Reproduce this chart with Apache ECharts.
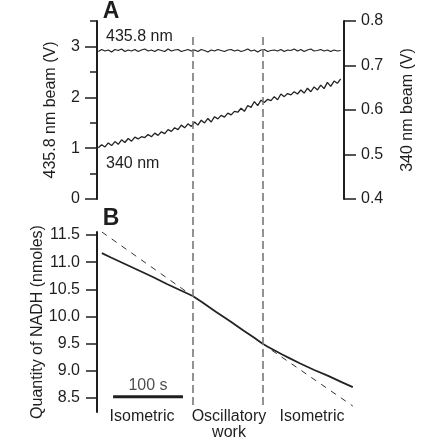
<!DOCTYPE html>
<html>
<head>
<meta charset="utf-8">
<script src="https://cdn.jsdelivr.net/npm/echarts@6/dist/echarts.min.js"></script>
<style>
  html, body { margin: 0; padding: 0; background: #fff; }
  #main { width: 424px; height: 446px; }
</style>
</head>
<body>
<div id="main"></div>
<script>
// time (s) of the sampled points in panel A
var times = [2,7,12,17,22,27,32,37,42,47,
  52,57,62,67,72,77,82,87,92,97,
  102,107,112,117,122,127,132,137,142,147,
  152,157,162,167,172,177,182,187,192,197,
  202,207,212,217,222,227,232,237,242,247,
  252,257,262,267,272,277,282,287,292,297,
  302,307,312,317,322,327,332,337,342,347,
  352,357,362,367];
// 435.8 nm beam (V), left axis
var beam435 = [2.90,2.94,2.91,2.93,2.89,2.94,2.92,2.95,2.90,2.93,
  2.91,2.94,2.90,2.93,2.95,2.91,2.93,2.90,2.94,2.92,
  2.90,2.95,2.91,2.93,2.94,2.90,2.92,2.94,2.91,2.93,
  2.90,2.94,2.92,2.89,2.93,2.91,2.94,2.92,2.90,2.93,
  2.94,2.91,2.93,2.90,2.92,2.95,2.91,2.93,2.89,2.93,
  2.94,2.90,2.92,2.93,2.91,2.94,2.90,2.93,2.92,2.95,
  2.91,2.94,2.90,2.93,2.95,2.91,2.92,2.94,2.91,2.93,
  2.90,2.93,2.91,2.92];
// 340 nm beam (V), right axis
var beam340 = [0.515,0.522,0.517,0.526,0.520,0.529,0.523,0.533,0.527,0.536,
  0.530,0.539,0.535,0.540,0.538,0.545,0.540,0.548,0.543,0.551,
  0.547,0.556,0.552,0.560,0.556,0.566,0.560,0.569,0.563,0.573,
  0.566,0.577,0.571,0.581,0.573,0.585,0.580,0.588,0.584,0.593,
  0.589,0.597,0.595,0.604,0.597,0.610,0.606,0.619,0.610,0.622,
  0.617,0.624,0.621,0.630,0.623,0.636,0.630,0.637,0.634,0.641,
  0.636,0.645,0.638,0.649,0.641,0.652,0.645,0.656,0.648,0.662,
  0.653,0.665,0.660,0.670];

// panel B: quantity of NADH (nmoles)
var nadhTimes = [7,20,40,60,80,100,120,137,150,170,190,210,225,237,245,255,265,276,290,310,330,350,366];
var nadh = [11.17,11.09,10.97,10.85,10.73,10.60,10.48,10.38,10.27,10.09,9.92,9.74,9.61,9.50,9.44,9.37,9.30,9.23,9.14,9.02,8.91,8.79,8.70];
// extrapolated oscillatory slope (dashed)
var fitLeft = [[7, 11.56], [130, 10.44]];
var fitRight = [[250, 9.38], [366, 8.35]];

// phase boundaries (s)
var phaseEdges = [137, 237];
var scaleBar = [[23, 8.52], [123, 8.52]];
var scaleLabel = '100 s';

var TMAX = 372;
var ink = '#1e1e1e';
var font = '"Liberation Sans", Arial, Helvetica, sans-serif';
var fs = 16;

var chart = echarts.init(document.getElementById('main'), null, { renderer: 'canvas' });

function hiddenX(i) {
  return { type: 'value', gridIndex: i, min: 0, max: TMAX, show: false };
}

var option = {
  backgroundColor: '#fff',
  animation: false,
  textStyle: { fontFamily: font },
  grid: [
    { left: 97, top: 21, width: 260, height: 178 },          // A full range
    { left: 97, top: 46.4, width: 260, height: 152.6 },      // A major ticks 0..3
    { left: 97, top: 232, width: 260, height: 180 },         // B full range
    { left: 97, top: 235, width: 260, height: 163 },         // B ticks 8.5..11.5
    { left: 97, top: 33, width: 260, height: 372 }           // phase lines
  ],
  xAxis: [hiddenX(0), hiddenX(1), hiddenX(2), hiddenX(3), hiddenX(4)],
  yAxis: [
    {
      type: 'value', gridIndex: 0, position: 'left', min: 0, max: 3.5, interval: 0.5,
      axisLine: { show: true, lineStyle: { color: ink, width: 2 } },
      axisTick: { show: true, length: 7, lineStyle: { color: ink, width: 1.5 } },
      axisLabel: { show: false }, splitLine: { show: false },
      name: '435.8 nm beam (V)', nameLocation: 'middle', nameRotate: 90, nameGap: 38,
      nameTextStyle: { color: ink, fontSize: fs, fontFamily: font }
    },
    {
      type: 'value', gridIndex: 0, position: 'right', min: 0.4, max: 0.8, interval: 0.1,
      axisLine: { show: true, lineStyle: { color: ink, width: 2 } },
      axisTick: { show: true, length: 12, lineStyle: { color: ink, width: 1.5 } },
      axisLabel: { color: ink, fontSize: fs, margin: 17, fontFamily: font,
        formatter: function (v) { return v.toFixed(1); } },
      splitLine: { show: false },
      name: '340 nm beam (V)', nameLocation: 'middle', nameRotate: 90, nameGap: 56,
      nameTextStyle: { color: ink, fontSize: fs, fontFamily: font }
    },
    {
      type: 'value', gridIndex: 1, position: 'left', min: 0, max: 3, interval: 1,
      axisLine: { show: false },
      axisTick: { show: true, length: 12, lineStyle: { color: ink, width: 1.5 } },
      axisLabel: { color: ink, fontSize: fs, margin: 17, fontFamily: font },
      splitLine: { show: false }
    },
    {
      type: 'value', gridIndex: 2, position: 'left', min: 8.24, max: 11.56,
      axisLine: { show: true, lineStyle: { color: ink, width: 2 } },
      axisTick: { show: false }, axisLabel: { show: false }, splitLine: { show: false },
      name: 'Quantity of NADH (nmoles)', nameLocation: 'middle', nameRotate: 90, nameGap: 51,
      nameTextStyle: { color: ink, fontSize: fs, fontFamily: font }
    },
    {
      type: 'value', gridIndex: 3, position: 'left', min: 8.5, max: 11.5, interval: 0.5,
      axisLine: { show: false },
      axisTick: { show: true, length: 11, lineStyle: { color: ink, width: 1.5 } },
      axisLabel: { color: ink, fontSize: fs, margin: 17, fontFamily: font,
        formatter: function (v) { return v.toFixed(1); } },
      splitLine: { show: false }
    },
    { type: 'value', gridIndex: 4, min: 0, max: 1, show: false }
  ],
  series: [
    {
      name: '435.8 nm', type: 'line', xAxisIndex: 0, yAxisIndex: 0, symbol: 'none',
      lineStyle: { color: '#222', width: 1.2 },
      data: times.map(function (t, i) { return [t, beam435[i]]; })
    },
    {
      name: '340 nm', type: 'line', xAxisIndex: 0, yAxisIndex: 1, symbol: 'none',
      lineStyle: { color: '#222', width: 1.3 },
      data: times.map(function (t, i) { return [t, beam340[i]]; })
    },
    {
      name: 'NADH', type: 'line', xAxisIndex: 2, yAxisIndex: 3, symbol: 'none',
      lineStyle: { color: '#222', width: 1.8 },
      data: nadhTimes.map(function (t, i) { return [t, nadh[i]]; })
    },
    {
      name: 'fitLeft', type: 'line', xAxisIndex: 2, yAxisIndex: 3, symbol: 'none',
      lineStyle: { color: '#333', width: 1, type: [6, 6] },
      data: fitLeft
    },
    {
      name: 'fitRight', type: 'line', xAxisIndex: 2, yAxisIndex: 3, symbol: 'none',
      lineStyle: { color: '#333', width: 1, type: [6, 6] },
      data: fitRight
    },
    {
      name: 'scale', type: 'line', xAxisIndex: 2, yAxisIndex: 3, symbol: 'none',
      lineStyle: { color: '#1e1e1e', width: 3 },
      data: scaleBar
    },
    {
      name: 'scaleLabel', type: 'scatter', xAxisIndex: 2, yAxisIndex: 3, symbolSize: 0,
      label: { show: true, position: 'top', distance: 3, color: ink, fontSize: fs,
        fontFamily: font, formatter: scaleLabel },
      data: [[(scaleBar[0][0] + scaleBar[1][0]) / 2, scaleBar[0][1]]]
    },
    {
      name: 'phases', type: 'line', xAxisIndex: 4, yAxisIndex: 5, symbol: 'none',
      data: [],
      markLine: {
        silent: true, symbol: 'none', label: { show: false },
        lineStyle: { color: '#777', width: 1.6, type: [8, 4] },
        data: phaseEdges.map(function (t) { return { xAxis: t }; })
      }
    }
  ],
  graphic: [
    { type: 'text', x: 111, y: 12, style: { text: 'A', font: 'bold 23px ' + font, fill: ink, align: 'center', verticalAlign: 'middle' } },
    { type: 'text', x: 111, y: 219, style: { text: 'B', font: 'bold 23px ' + font, fill: ink, align: 'center', verticalAlign: 'middle' } },
    { type: 'text', x: 106, y: 37, style: { text: '435.8 nm', font: fs + 'px ' + font, fill: ink, align: 'left', verticalAlign: 'middle' } },
    { type: 'text', x: 106, y: 164, style: { text: '340 nm', font: fs + 'px ' + font, fill: ink, align: 'left', verticalAlign: 'middle' } },
    { type: 'text', x: 142, y: 417, style: { text: 'Isometric', font: fs + 'px ' + font, fill: ink, align: 'center', verticalAlign: 'middle' } },
    { type: 'text', x: 229, y: 417, style: { text: 'Oscillatory', font: fs + 'px ' + font, fill: ink, align: 'center', verticalAlign: 'middle' } },
    { type: 'text', x: 229, y: 433, style: { text: 'work', font: fs + 'px ' + font, fill: ink, align: 'center', verticalAlign: 'middle' } },
    { type: 'text', x: 312, y: 417, style: { text: 'Isometric', font: fs + 'px ' + font, fill: ink, align: 'center', verticalAlign: 'middle' } }
  ]
};

chart.setOption(option);
</script>
</body>
</html>
